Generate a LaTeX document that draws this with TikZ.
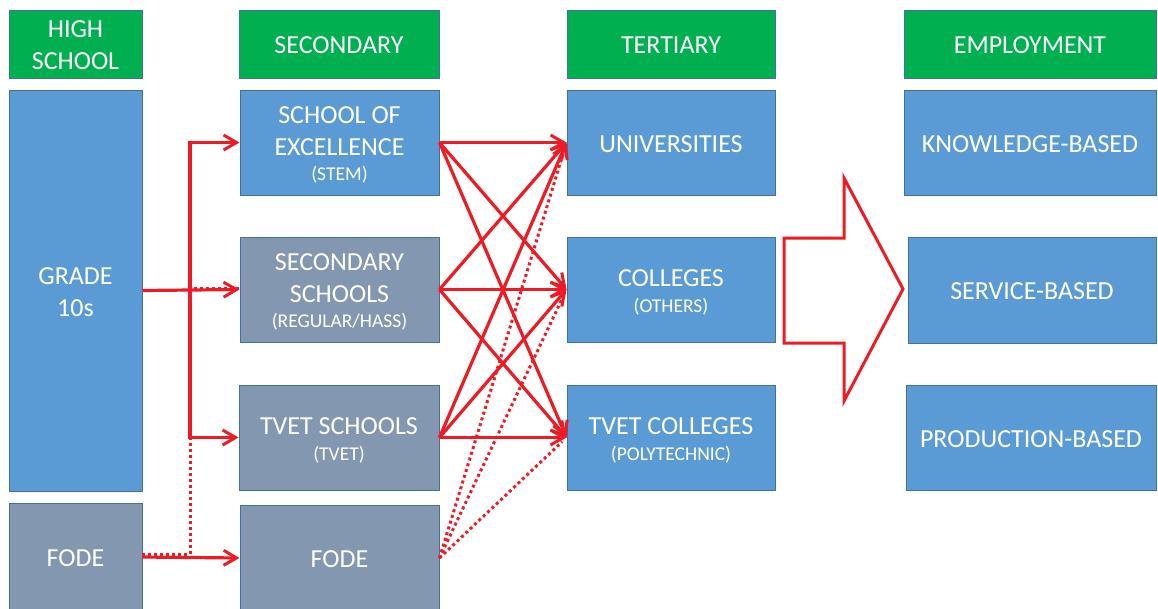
\documentclass[tikz,border=0pt]{standalone}
\usepackage{fontspec}
\setmainfont{Carlito}
\usetikzlibrary{arrows.meta}
\definecolor{hdr}{HTML}{00B050}
\definecolor{bblue}{HTML}{5B9BD5}
\definecolor{bgrey}{HTML}{8497B0}
\definecolor{bord}{HTML}{41719C}
\definecolor{ared}{RGB}{237,28,36}
\newcommand{\subl}[1]{{\fontsize{19.5}{23}\selectfont #1}}
\newcommand{\tb}{\rule{0pt}{25.3pt}}
\newcommand{\te}{\rule[-6pt]{0pt}{0pt}}
\tikzset{
  box/.style={draw=bord, line width=0.9pt, text=white, align=center, inner sep=0pt,
    font=\fontsize{26}{31.7}\selectfont},
  hbox/.style={box, fill=hdr},
  bluebox/.style={box, fill=bblue},
  greybox/.style={box, fill=bgrey},
  arr/.style={draw=ared, line width=3.2pt, -{Straight Barb[length=13pt,width=15pt,line width=3pt]}},
  dotl/.style={draw=ared, line width=3pt, dash pattern=on 3pt off 3pt},
}
\begin{document}
\begin{tikzpicture}[x=1pt,y=-1pt]
\useasboundingbox (0,0) rectangle (1158,608);
% headers
\node[hbox, minimum width=133pt, minimum height=68pt] (h1) at (75.5,44) {\tb HIGH\\SCHOOL\te};
\node[hbox, minimum width=200pt, minimum height=68pt] (h2) at (339,44) {\tb SECONDARY\te};
\node[hbox, minimum width=208pt, minimum height=68pt] (h3) at (671,44) {\tb TERTIARY\te};
\node[hbox, minimum width=252pt, minimum height=68pt] (h4) at (1030,44) {\tb EMPLOYMENT\te};
% high school
\node[bluebox, minimum width=133pt, minimum height=401pt] (grade) at (75.5,290.5) {\tb GRADE\\10s\te};
\node[greybox, minimum width=133pt, minimum height=108pt] (fodel) at (75.5,557) {\tb FODE\te};
% secondary
\node[bluebox, minimum width=199pt, minimum height=105pt] (soe) at (339.5,142.5) {\tb SCHOOL OF\\EXCELLENCE\\[-6pt]\subl{(STEM)}\te};
\node[greybox, minimum width=199pt, minimum height=105pt] (ss) at (339.5,289.5) {\tb SECONDARY\\SCHOOLS\\[-6pt]\subl{(REGULAR/HASS)}\te};
\node[greybox, minimum width=200pt, minimum height=105pt] (tvs) at (339,437.5) {\tb TVET SCHOOLS\\[-6pt]\subl{(TVET)}\te};
\node[greybox, minimum width=199pt, minimum height=106pt] (fodem) at (339.5,558) {\tb FODE\te};
% tertiary
\node[bluebox, minimum width=208pt, minimum height=105pt] (uni) at (671,142.5) {\tb UNIVERSITIES\te};
\node[bluebox, minimum width=208pt, minimum height=105pt] (col) at (671,289.5) {\tb COLLEGES\\[-6pt]\subl{(OTHERS)}\te};
\node[bluebox, minimum width=208pt, minimum height=105pt] (tvc) at (671,437.5) {\tb TVET COLLEGES\\[-6pt]\subl{(POLYTECHNIC)}\te};
% employment
\node[bluebox, minimum width=252pt, minimum height=105pt] (kb) at (1030,142.5) {\tb KNOWLEDGE-BASED\te};
\node[bluebox, minimum width=248pt, minimum height=106pt] (sb) at (1032,290) {\tb SERVICE-BASED\te};
\node[bluebox, minimum width=250pt, minimum height=105pt] (pb) at (1031,437.5) {\tb PRODUCTION-BASED\te};
% big arrow
\draw[draw=ared, line width=3pt, fill=white, miter limit=10]
  (784,238) -- (844,238) -- (844,178) -- (903,289) -- (844,401) -- (844,343) -- (784,343) -- cycle;
% left connectors
\coordinate (j) at (190,290.5);
\coordinate (jd) at (190,554);
\coordinate (jt) at (190,288);
\draw[dotl] ([yshift=3pt]fodel.east) -- (jd) -- (jt) -- ([yshift=1.5pt]ss.west);
\draw[arr] (grade.east) -- (ss.west);
\draw[arr] (j) |- (soe.west);
\draw[arr] (j) |- (tvs.west);
\draw[arr] (fodel.east) -- (fodem.west);
% fan connectors
\foreach \s in {soe,ss,tvs}{
  \foreach \t in {uni,col,tvc}{
    \draw[arr] (\s.east) -- (\t.west);
  }
}
\foreach \t in {uni,col,tvc}{
  \draw[dotl, shorten >=6pt] (fodem.east) -- (\t.west);
}
\end{tikzpicture}
\end{document}
